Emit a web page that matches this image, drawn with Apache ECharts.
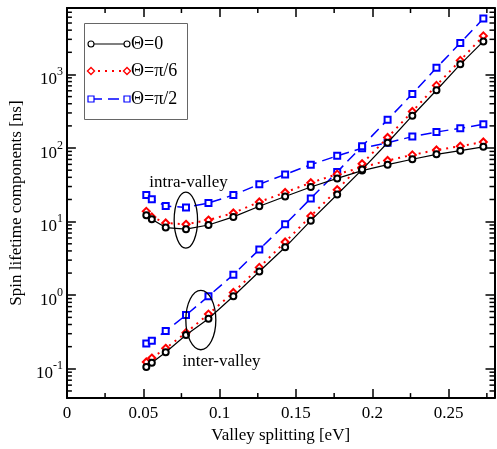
<!DOCTYPE html>
<html><head><meta charset="utf-8">
<script src="https://cdn.jsdelivr.net/npm/echarts@6/dist/echarts.min.js"></script>
<style>html,body{margin:0;padding:0;background:#fff}#c{width:497px;height:449px}</style>
</head><body><div id="c"></div>
<script>
// ---- data ----
const xVals = [0.052, 0.0556, 0.0647, 0.078, 0.0927, 0.109, 0.126, 0.1429, 0.1597, 0.177, 0.1933, 0.21, 0.2262, 0.242, 0.2576, 0.2727];
const intraTheta0   = [12.2, 10.8, 8.3, 7.9, 9.0, 11.6, 16.2, 22.0, 29.6, 38.7, 49.4, 59.4, 70.5, 82.2, 92.1, 104];
const intraThetaPi6 = [13.8, 11.6, 9.6, 9.2, 10.5, 13.1, 18.5, 24.9, 33.8, 44.2, 54.7, 67.8, 80.7, 94.0, 106, 121];
const intraThetaPi2 = [23.0, 20.2, 16.3, 15.6, 17.9, 23.0, 32.2, 43.8, 59.4, 78.3, 99.4, 118, 143, 165, 186, 210];
const interTheta0   = [0.106, 0.121, 0.168, 0.288, 0.48, 0.97, 2.10, 4.48, 10.3, 23.4, 51.0, 118, 275, 610, 1374, 2813];
const interThetaPi6 = [0.124, 0.140, 0.190, 0.310, 0.554, 1.09, 2.39, 5.29, 11.9, 27.1, 61.3, 139, 314, 710, 1553, 3344];
const interThetaPi2 = [0.221, 0.240, 0.326, 0.537, 0.97, 1.90, 4.18, 9.18, 20.7, 47.4, 106, 243, 544, 1231, 2673, 5745];
const legendNames = ['\u0398=0', '\u0398=\u03c0/6', '\u0398=\u03c0/2'];
const xAxisTitle = 'Valley splitting [eV]';
const yAxisTitle = 'Spin lifetime components [ns]';
const xMinorTicks = [0.025, 0.075, 0.125, 0.175, 0.225, 0.275];
const yMinorMultipliers = [2, 3, 4, 5, 6, 7, 8, 9];

const FONT = '"Liberation Serif","Times New Roman",serif';
const chart = echarts.init(document.getElementById('c'));
const pairs = ys => xVals.map((x, i) => [x, ys[i]]);

const styles = [
  {color: '#000000', symbol: 'emptyCircle', size: 6, type: 'solid', width: 1.2, bw: 1.1},
  {color: '#ff0000', symbol: 'emptyDiamond', size: 7, type: [2, 5], width: 2, bw: 1.4},
  {color: '#0000ff', symbol: 'emptyRect', size: 6, type: [11, 6], width: 1.5, bw: 1.2}
];
const seriesData = [[intraTheta0, interTheta0], [intraThetaPi6, interThetaPi6], [intraThetaPi2, interThetaPi2]];

const series = [];
[2, 1, 0].forEach(k => {
  const s = styles[k];
  seriesData[k].forEach((ys, j) => {
    series.push({
      type: 'line', name: legendNames[k] + (j ? ' inter' : ' intra'),
      data: pairs(ys), symbol: s.symbol, symbolSize: s.size, showSymbol: true,
      lineStyle: {color: s.color, width: s.width, type: s.type},
      itemStyle: {color: s.color, borderColor: s.color, borderWidth: s.bw},
      z: 3 + (2 - k)
    });
  });
});

const axisLine = {show: true, onZero: false, lineStyle: {color: '#000', width: 2}};
const tick = {show: true, inside: true, length: 9, lineStyle: {color: '#000', width: 1.5}};
const yFormatter = v => {
  const l = Math.log10(v), e = Math.round(l);
  if (Math.abs(l - e) > 0.01) return '';
  return '{b|10}{s|' + e + '}';
};

const option = {
  animation: false,
  backgroundColor: '#fff',
  grid: {left: 65, right: 2.5, top: 8, bottom: 42},
  xAxis: [{
    type: 'value', min: 0, max: 0.28, interval: 0.05, position: 'bottom',
    name: xAxisTitle, nameLocation: 'middle', nameGap: 20,
    nameTextStyle: {fontFamily: FONT, fontSize: 17, color: '#000'},
    axisLine, axisTick: tick, splitLine: {show: false},
    axisLabel: {fontFamily: FONT, fontSize: 17, color: '#000', margin: 7, showMaxLabel: false,
      formatter: v => String(+v.toFixed(2))}
  }, {
    type: 'value', min: 0, max: 0.28, interval: 0.05, position: 'top',
    axisLine, axisTick: tick, splitLine: {show: false}, axisLabel: {show: false}
  }],
  yAxis: [{
    type: 'log', logBase: 10, min: 0.04, max: 8000, position: 'left',
    name: yAxisTitle, nameLocation: 'middle', nameGap: 36,
    nameTextStyle: {fontFamily: FONT, fontSize: 17, color: '#000'},
    axisLine, axisTick: tick, splitLine: {show: false},
    axisLabel: {showMinLabel: false, showMaxLabel: false, margin: 4, formatter: yFormatter,
      rich: {
        b: {fontFamily: FONT, fontSize: 17, color: '#000', padding: [10, 0, 0, 0]},
        s: {fontFamily: FONT, fontSize: 12, color: '#000', verticalAlign: 'top', padding: [5, 0, 0, 0]}
      }}
  }, {
    type: 'log', logBase: 10, min: 0.04, max: 8000, position: 'right',
    axisLine, axisTick: tick, splitLine: {show: false}, axisLabel: {show: false}
  }],
  series
};
chart.setOption(option);

// ---- extra decorations: minor ticks, legend, annotations ----
const X = v => chart.convertToPixel({xAxisIndex: 0}, v);
const Y = v => chart.convertToPixel({yAxisIndex: 0}, v);
const xL = X(0), xR = X(0.28), yB = Y(0.04), yT = Y(8000);
const g = [];
const tl = (x1, y1, x2, y2) => g.push({type: 'line', silent: true, z: 10,
  shape: {x1, y1, x2, y2}, style: {stroke: '#000', lineWidth: 1.5}});
for (let k = -2; k <= 3; k++) {
  yMinorMultipliers.forEach(m => {
    const v = m * Math.pow(10, k);
    if (v > 0.04 && v < 8000) {
      const y = Y(v);
      tl(xL, y, xL + 5, y);
      tl(xR, y, xR - 5, y);
    }
  });
}
xMinorTicks.forEach(v => {
  const x = X(v);
  tl(x, yB, x, yB - 5);
  tl(x, yT, x, yT + 5);
});

// legend
g.push({type: 'rect', z: 10, shape: {x: 84.5, y: 23.5, width: 103, height: 96},
  style: {fill: '#fff', stroke: '#666', lineWidth: 1}});
const legY = [44, 71, 99];
legY.forEach((y, k) => {
  const s = styles[k];
  g.push({type: 'line', z: 11, shape: {x1: 91, y1: y, x2: 127, y2: y},
    style: {stroke: s.color, lineWidth: s.width, lineDash: s.type === 'solid' ? null : s.type}});
  [91, 127].forEach(cx => {
    let el;
    if (k === 0) el = {type: 'circle', shape: {cx, cy: y, r: 3}};
    else if (k === 1) el = {type: 'polygon', shape: {points: [[cx, y - 3.5], [cx + 3.5, y], [cx, y + 3.5], [cx - 3.5, y]]}};
    else el = {type: 'rect', shape: {x: cx - 3, y: y - 3, width: 6, height: 6}};
    el.z = 12;
    el.style = {fill: '#fff', stroke: s.color, lineWidth: s.bw};
    g.push(el);
  });
  g.push({type: 'text', z: 12, x: 131, y: y,
    style: {text: legendNames[k], font: '18px ' + FONT, fill: '#000', verticalAlign: 'middle', align: 'left'}});
});

// annotations
g.push({type: 'ellipse', z: 12, shape: {cx: X(0.0779), cy: Y(10.5), rx: 11.7, ry: 28},
  style: {fill: null, stroke: '#000', lineWidth: 1.3}});
g.push({type: 'ellipse', z: 12, shape: {cx: X(0.0877), cy: Y(0.46), rx: 15, ry: 29.7},
  style: {fill: null, stroke: '#000', lineWidth: 1.3}});
g.push({type: 'text', z: 12, x: X(0.054), y: Y(34),
  style: {text: 'intra-valley', font: '17px ' + FONT, fill: '#000', verticalAlign: 'middle', align: 'left'}});
g.push({type: 'text', z: 12, x: X(0.0757), y: Y(0.125),
  style: {text: 'inter-valley', font: '17px ' + FONT, fill: '#000', verticalAlign: 'middle', align: 'left'}});

chart.setOption({graphic: {elements: g}});
</script>
</body></html>
